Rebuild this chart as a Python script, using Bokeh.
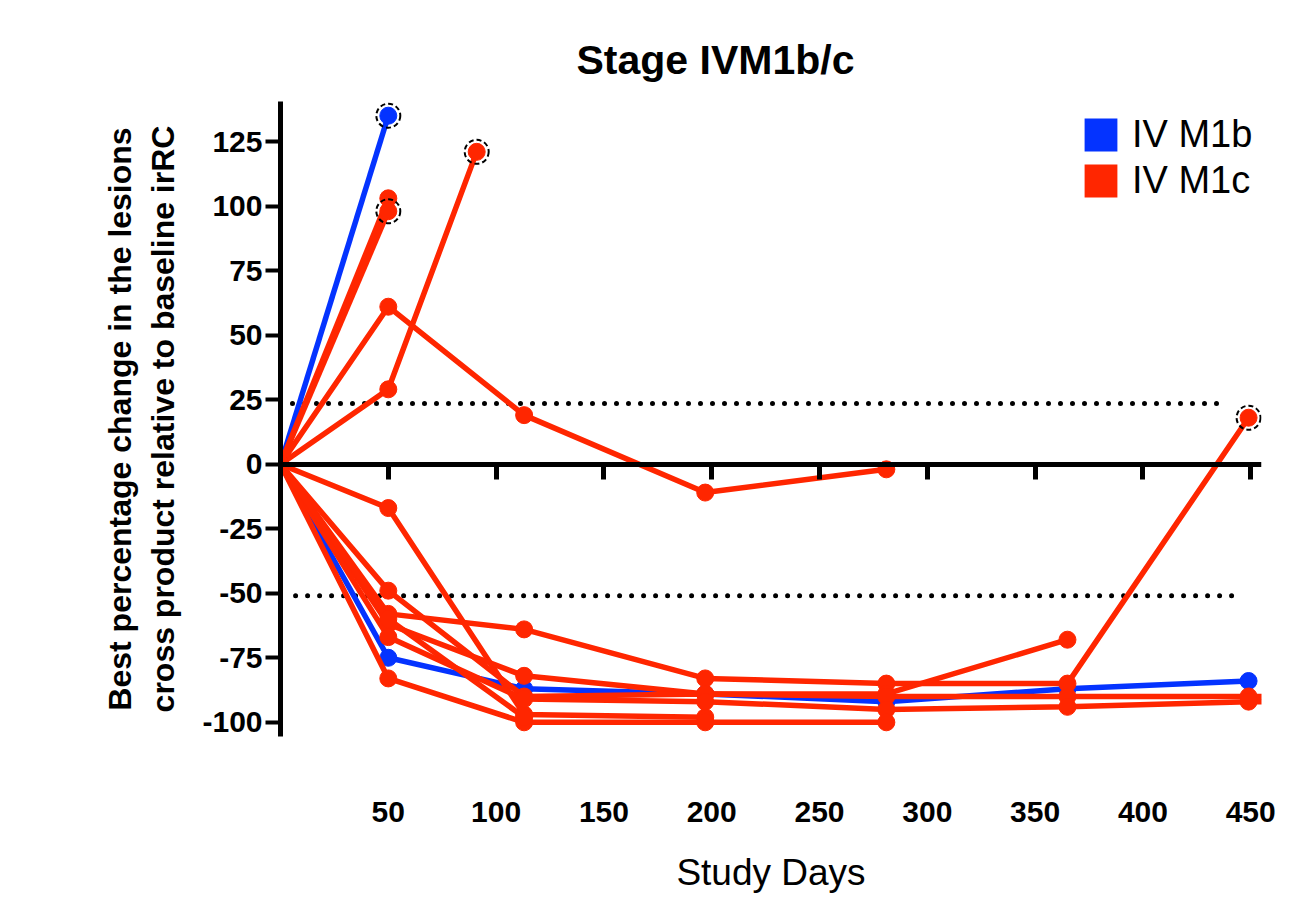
from bokeh.plotting import figure
from bokeh.models import (ColumnDataSource, LinearAxis, FixedTicker, Range1d,
                          Legend, LegendItem)
from bokeh.embed import file_html
from bokeh.resources import INLINE

# ---------------- data ----------------
x_ticks = [50, 100, 150, 200, 250, 300, 350, 400, 450]
y_ticks = [-100, -75, -50, -25, 0, 25, 50, 75, 100, 125]
y_tick_labels = {t: str(t) for t in y_ticks}

# IV M1b patients (days, % change)
b1_days = [0, 50]
b1_pct = [0, 135]
b2_days = [0, 50, 113, 197, 281, 365, 449]
b2_pct = [0, -75, -87, -89, -92, -87, -84]

# IV M1c patients (days, % change)
c1_days = [0, 50]
c1_pct = [0, 103]
c2_days = [0, 50]
c2_pct = [0, 98]
c3_days = [0, 50, 91]
c3_pct = [0, 29, 121]
c4_days = [0, 50, 113, 197, 281]
c4_pct = [0, 61, 19, -11, -2]
c5_days = [0, 50, 113, 197]
c5_pct = [0, -17, -97, -98]
c6_days = [0, 50, 113, 197, 281, 365, 449]
c6_pct = [0, -58, -64, -83, -85, -85, 18]
c7_days = [0, 50, 113, 197, 281, 365]
c7_pct = [0, -62, -82, -89, -89, -68]
c8_days = [0, 50, 113, 197, 281, 365, 449, 470]
c8_pct = [0, -49, -90, -89, -90, -90, -90, -90]
c9_days = [0, 50, 113, 197, 281, 365, 449, 470]
c9_pct = [0, -67, -91, -92, -95, -94, -92, -92]
c10_days = [0, 50, 113, 197, 281]
c10_pct = [0, -83, -100, -100, -100]
c11_days = [0, 50, 113]
c11_pct = [0, -60, -98]

# series whose last value is flagged with a dashed ring
b_series = [(b1_days, b1_pct, True), (b2_days, b2_pct, False)]
c_series = [(c1_days, c1_pct, False), (c2_days, c2_pct, True), (c3_days, c3_pct, True),
            (c4_days, c4_pct, False), (c5_days, c5_pct, False), (c6_days, c6_pct, True),
            (c7_days, c7_pct, False), (c8_days, c8_pct, False), (c9_days, c9_pct, False),
            (c10_days, c10_pct, False), (c11_days, c11_pct, False)]

# reference thresholds (dotted)
upper_ref_days = [0, 436]
upper_ref_pct = [23.5, 23.5]
lower_ref_days = [7, 444]
lower_ref_pct = [-51, -51]

legend_labels = ["IV M1b", "IV M1c"]

BLUE = "#0433FF"
RED = "#FF2600"
FONT = "Liberation Sans"
NAN = float("nan")

p = figure(frame_width=981, frame_height=635,
           x_range=Range1d(0, 455), y_range=Range1d(-105.5, 140.5),
           output_backend="svg", toolbar_location=None,
           min_border_left=280, min_border_right=30,
           min_border_top=101, min_border_bottom=170,
           background_fill_color="white", border_fill_color="white")
p.outline_line_color = None
p.grid.visible = False

# title
p.title.text = "Stage IVM1b/c"
p.title.text_font = FONT
p.title.text_font_style = "bold"
p.title.text_font_size = "41px"
p.title.text_color = "black"
p.title.align = "left"
p.title.offset = 296
p.title.standoff = 37

# dotted reference lines
for xs, ys in [(upper_ref_days, upper_ref_pct), (lower_ref_days, lower_ref_pct)]:
    p.line(xs, ys, line_color="black", line_width=5, line_dash="0 12", line_cap="round")

flag_x, flag_y = [], []

def draw(series, color):
    for xs, ys, flagged in series:
        src = ColumnDataSource(dict(x=xs, y=ys))
        p.line("x", "y", source=src, line_color=color, line_width=5.5)
        p.scatter("x", "y", source=src, size=17, fill_color=color, line_color=color)
        if flagged:
            flag_x.append(xs[-1])
            flag_y.append(ys[-1])

draw(b_series, BLUE)
draw(c_series, RED)

p.scatter(flag_x, flag_y, size=24, fill_color=None, line_color="black",
          line_width=2, line_dash="5 3")

# axes
xa = p.xaxis[0]
xa.ticker = FixedTicker(ticks=x_ticks)
xa.axis_line_color = None
xa.major_tick_line_color = None
xa.minor_tick_line_color = None
xa.major_tick_in = 0
xa.major_tick_out = 0
xa.major_label_standoff = 65
xa.major_label_text_font = FONT
xa.major_label_text_font_style = "bold"
xa.major_label_text_font_size = "30px"
xa.major_label_text_color = "black"
xa.axis_label = "Study Days"
xa.axis_label_text_font = FONT
xa.axis_label_text_font_style = "normal"
xa.axis_label_text_font_size = "37px"
xa.axis_label_text_color = "black"
xa.axis_label_standoff = 27

zero_axis = LinearAxis(fixed_location=0, ticker=FixedTicker(ticks=x_ticks),
                       major_label_overrides={t: "" for t in x_ticks},
                       axis_line_width=5, axis_line_color="black",
                       major_tick_line_width=5, major_tick_line_color="black",
                       major_tick_in=0, major_tick_out=15,
                       minor_tick_line_color=None, major_label_standoff=0)
p.add_layout(zero_axis, "below")

ya = p.yaxis[0]
ya.ticker = FixedTicker(ticks=y_ticks)
ya.major_label_overrides = y_tick_labels
ya.axis_line_width = 5
ya.axis_line_color = "black"
ya.major_tick_line_width = 4
ya.major_tick_in = 0
ya.major_tick_out = 15
ya.minor_tick_line_color = None
ya.major_label_standoff = 3
ya.major_label_text_font = FONT
ya.major_label_text_font_style = "bold"
ya.major_label_text_font_size = "30px"
ya.major_label_text_color = "black"
ya.axis_label = "Best percentage change in the lesions\ncross product relative to baseline irRC"
ya.axis_label_text_font = FONT
ya.axis_label_text_font_style = "bold"
ya.axis_label_text_font_size = "32px"
ya.axis_label_text_color = "black"
ya.axis_label_standoff = 18

# legend with filled squares
lb = p.quad(left=[NAN], right=[NAN], top=[NAN], bottom=[NAN], fill_color=BLUE, line_color=None)
lc = p.quad(left=[NAN], right=[NAN], top=[NAN], bottom=[NAN], fill_color=RED, line_color=None)
legend = Legend(items=[LegendItem(label=legend_labels[0], renderers=[lb]),
                       LegendItem(label=legend_labels[1], renderers=[lc])],
                location=(800, 534), glyph_width=41, glyph_height=41,
                label_text_font=FONT, label_text_font_size="38px",
                label_text_color="black",
                label_standoff=11, spacing=3, padding=4, margin=0,
                border_line_color=None, background_fill_alpha=0)
p.add_layout(legend)

open("out.html", "w").write(file_html(p, INLINE))
